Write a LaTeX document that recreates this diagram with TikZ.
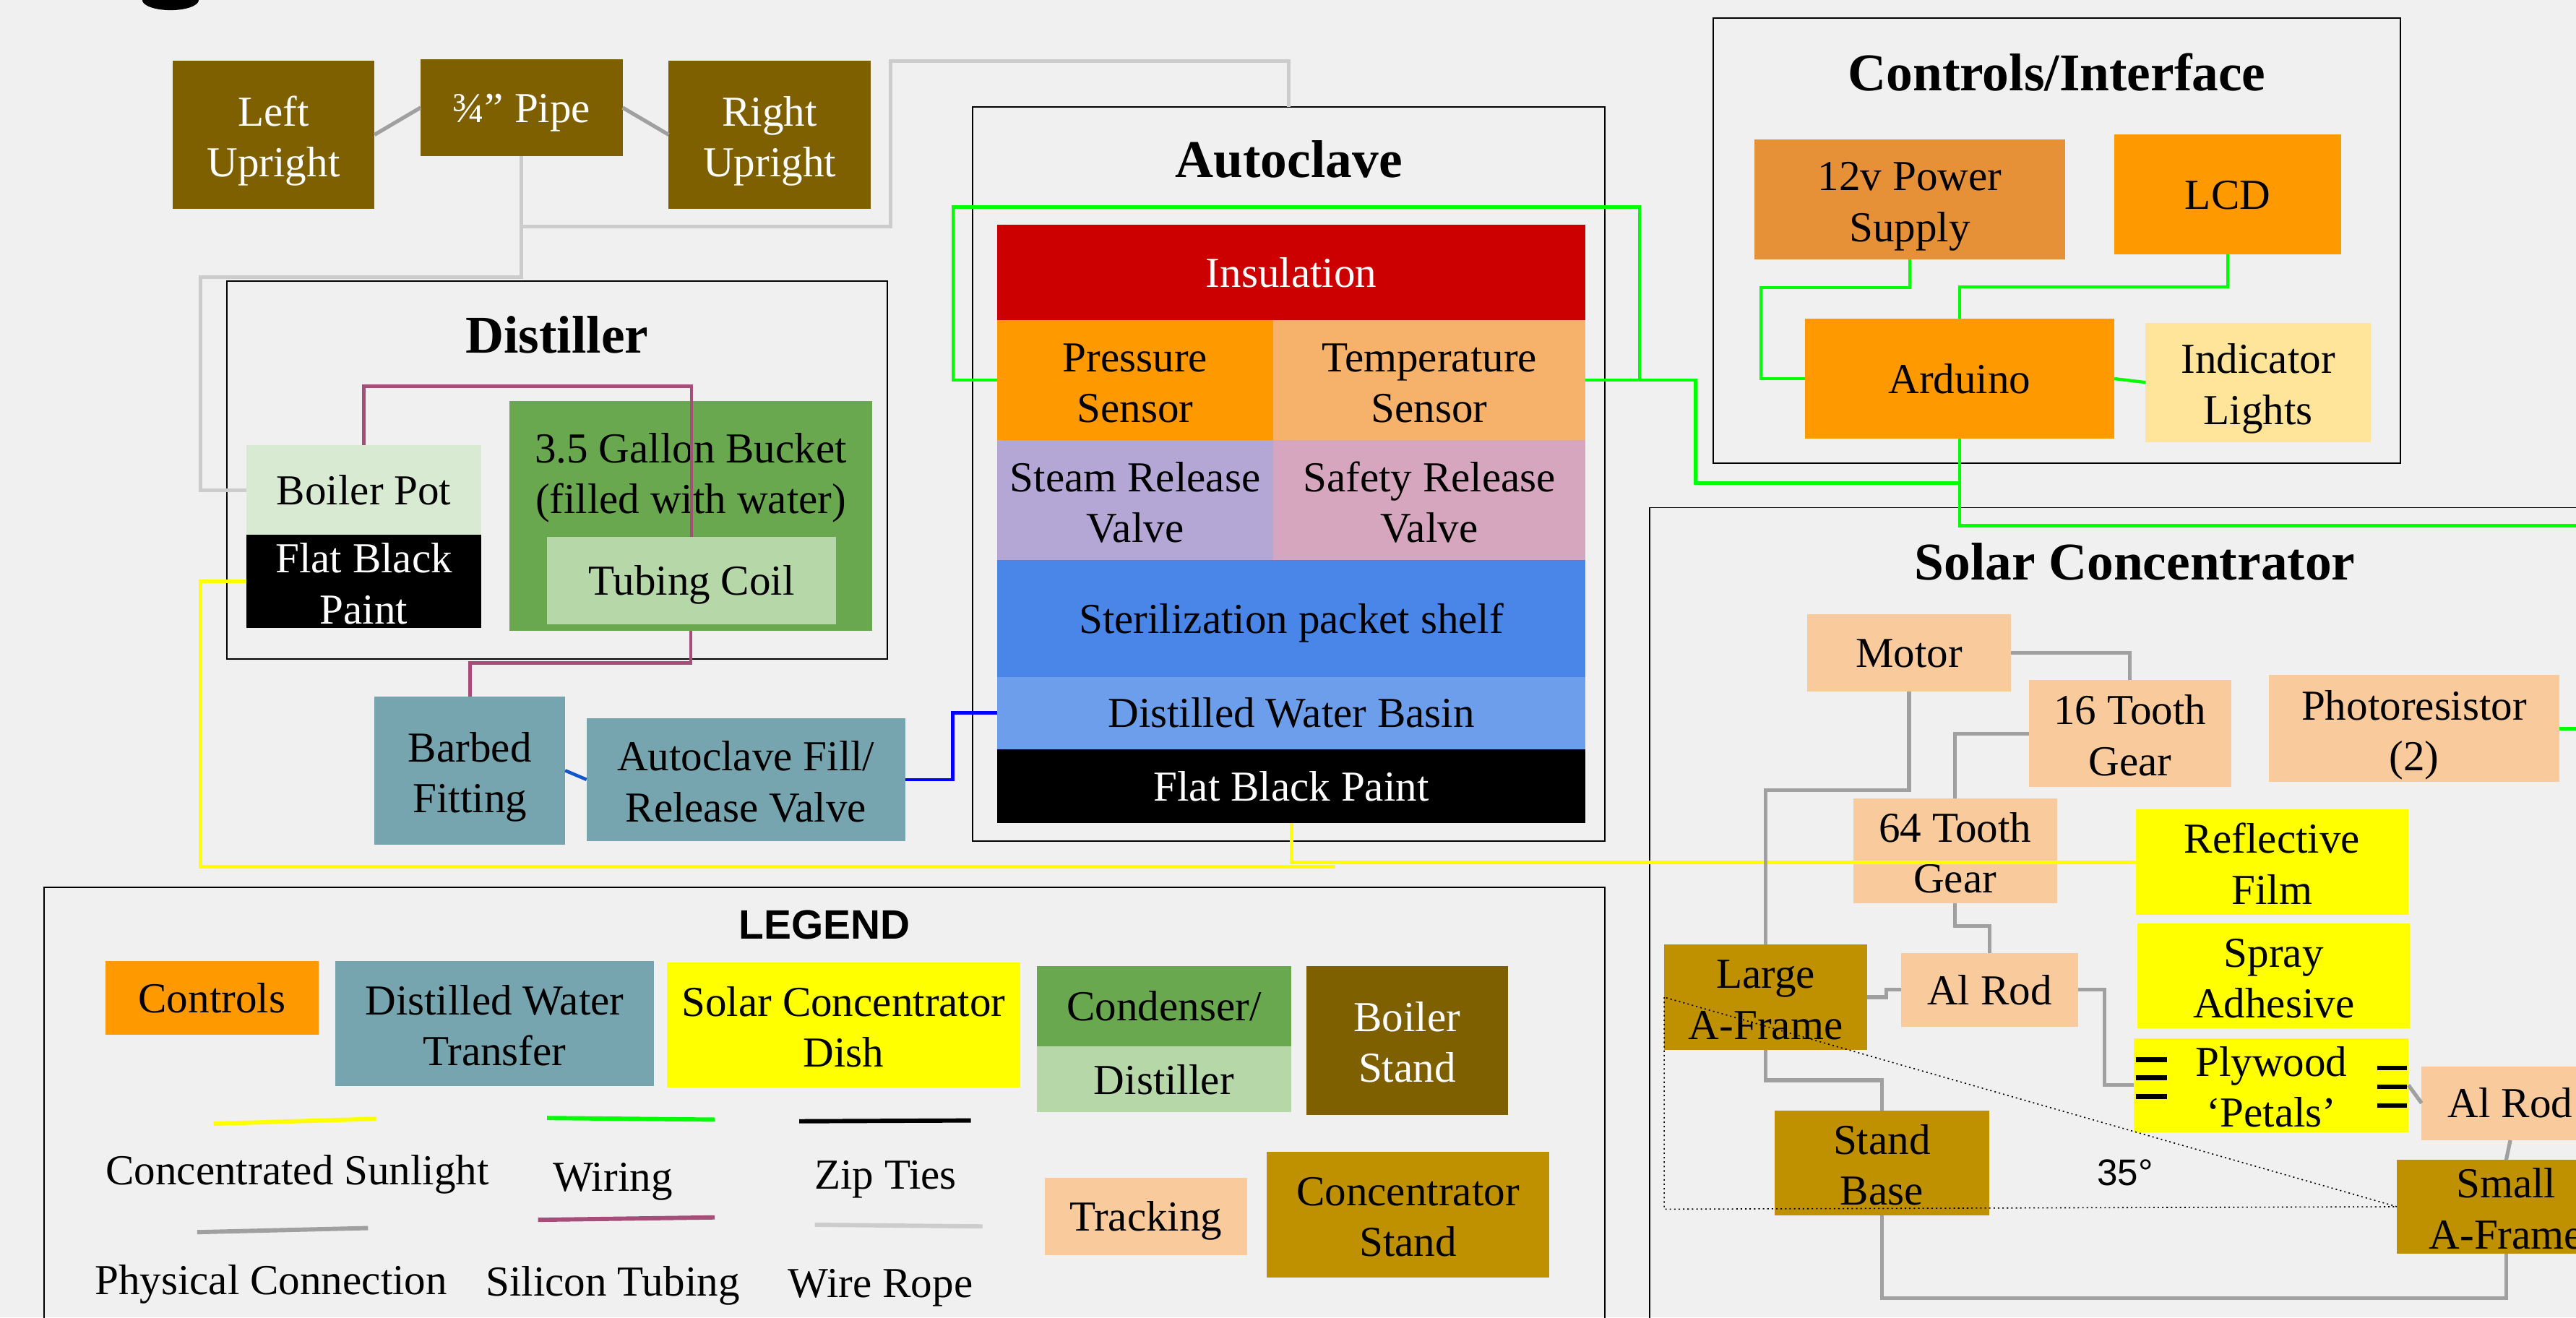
\documentclass[tikz,border=0pt]{standalone}
\usepackage{fontspec}
\setmainfont{Liberation Serif}
\newfontfamily\legendsans{Liberation Sans}
\usepackage{tikz}
\usetikzlibrary{positioning, calc}
\usepackage{xcolor}
\definecolor{canvas}{HTML}{F0F0F0}
\definecolor{standbrown}{HTML}{7F6000}
\definecolor{standgold}{HTML}{BF9000}
\definecolor{trackpeach}{HTML}{F9CB9C}
\definecolor{dishyellow}{HTML}{FFFF00}
\definecolor{ctrlorange}{HTML}{FF9900}
\definecolor{psuorange}{HTML}{E69138}
\definecolor{lampamber}{HTML}{FFE599}
\definecolor{insulred}{HTML}{CC0000}
\definecolor{tempsand}{HTML}{F6B26B}
\definecolor{steamlilac}{HTML}{B4A7D6}
\definecolor{safetypink}{HTML}{D5A6BD}
\definecolor{shelfblue}{HTML}{4A86E8}
\definecolor{basinblue}{HTML}{6D9EEB}
\definecolor{waterteal}{HTML}{76A5AF}
\definecolor{condgreen}{HTML}{6AA84F}
\definecolor{coilgreen}{HTML}{B6D7A8}
\definecolor{potgreen}{HTML}{D9EAD3}
\definecolor{wiregreen}{HTML}{00FF00}
\definecolor{ropegray}{HTML}{CCCCCC}
\definecolor{physgray}{HTML}{A0A0A0}
\definecolor{tubemauve}{HTML}{A64D79}
\definecolor{fittingblue}{HTML}{1155CC}
\definecolor{valveblue}{HTML}{0000FF}
\newcommand{\txtbody}{\fontsize{26}{31}\selectfont}
\newcommand{\txttitle}{\fontsize{32.3}{38}\selectfont\bfseries}

\begin{document}
\begin{tikzpicture}[x=1pt, y=-1pt,
    block/.style={inner sep=0pt, outer sep=0pt, align=center, font=\txtbody,
        text height=17.8pt, text depth=0pt},
    twoline/.style={text height=54pt, text depth=2.8pt},
    wh/.style 2 args={minimum width=#1pt, minimum height=#2pt},
    group/.style={draw, line width=0.8pt, inner sep=0pt, outer sep=0pt},
    heading/.style={inner sep=0pt, font=\txttitle},
    phys/.style={physgray, line width=2.3pt},
    rope/.style={ropegray, line width=2.2pt},
    wire/.style={wiregreen, line width=1.9pt},
    sun/.style={dishyellow, line width=2.2pt},
    tube/.style={tubemauve, line width=2pt},
    legline/.style={line width=2.6pt},
    ziptie/.style={black, line width=2.8pt},
    angleline/.style={line width=0.7pt, dash pattern=on 0.9pt off 1.8pt}
]

\fill[canvas] (0,0) rectangle (1568,802);
\useasboundingbox (0,0) rectangle (1568,802);
\clip (0,0) rectangle (1568,802);

% cut-off title
\fill (86.6,0) arc[start angle=180, end angle=360, x radius=17.2pt, y radius=6.2pt] -- cycle;

% Boiler stand
\node[block, twoline, fill=standbrown, text=white, wh={123}{90}] (lup) at (166.5,82) {Left\\Upright};
\node[block, fill=standbrown, text=white, wh={123}{59}] (pipe) at (317.5,65.5) {¾” Pipe};
\node[block, twoline, fill=standbrown, text=white, wh={123}{90}] (rup) at (468.5,82) {Right\\Upright};

% Distiller
\node[group, wh={402}{230}] (dist) at (339,286) {};
\node[heading] (disttitle) at ($(dist.north)+(0,33)$) {Distiller};
\node[block, fill=potgreen, wh={143}{55}] (boiler) at (221.5,298.5) {Boiler Pot};
\node[block, twoline, fill=black, text=white, wh={143}{56}] (potpaint) at (221.5,354) {Flat Black\\Paint};
\node[block, fill=condgreen, wh={221}{140}] (bucket) at (420.5,314) {};
\node[block, twoline] (buckettext) at (420.5,287) {3.5 Gallon Bucket\\(filled with water)};
\node[block, fill=coilgreen, wh={176}{53}] (coil) at (421,353.5) {Tubing Coil};

% Distilled water transfer
\node[block, twoline, fill=waterteal, wh={116}{90}] (barbed) at (286,469) {Barbed\\Fitting};
\node[block, twoline, fill=waterteal, wh={194}{75}] (fillvalve) at (454,474.5) {Autoclave Fill/\\Release Valve};

% Autoclave
\node[group, wh={385}{447}] (auto) at (784.5,288.5) {};
\node[heading] (autotitle) at ($(auto.north)+(0,32)$) {Autoclave};
\node[block, fill=insulred, text=white, wh={358}{58}] (insul) at (786,166) {Insulation};
\node[block, twoline, fill=ctrlorange, wh={168}{73}, anchor=north west] (press) at (insul.south west) {Pressure\\Sensor};
\node[block, twoline, fill=tempsand, wh={190}{73}, right=0pt of press] (temp) {Temperature\\Sensor};
\node[block, twoline, fill=steamlilac, wh={168}{73}, below=0pt of press] (steam) {Steam Release\\Valve};
\node[block, twoline, fill=safetypink, wh={190}{73}, below=0pt of temp] (safety) {Safety Release\\Valve};
\node[block, fill=shelfblue, wh={358}{71}, anchor=north] (shelf) at (steam.south -| insul.south) {Sterilization packet shelf};
\node[block, fill=basinblue, wh={358}{44}, below=0pt of shelf] (basin) {Distilled Water Basin};
\node[block, fill=black, text=white, wh={358}{45}, below=0pt of basin] (autopaint) {Flat Black Paint};

% Controls/Interface
\node[group, wh={418}{271}] (ctrl) at (1252,146.5) {};
\node[heading] (ctrltitle) at ($(ctrl.north)+(0,33)$) {Controls/Interface};
\node[block, twoline, fill=psuorange, wh={189}{73}] (psu) at (1162.5,121.5) {12v Power\\Supply};
\node[block, fill=ctrlorange, wh={138}{73}] (lcd) at (1356,118.5) {LCD};
\node[block, fill=ctrlorange, wh={188.5}{73}] (ard) at (1192.75,230.5) {Arduino};
\node[block, twoline, fill=lampamber, wh={137}{72.5}] (lights) at (1374.5,232.75) {Indicator\\Lights};

% Solar Concentrator
\node[group, wh={591}{530}] (solar) at (1299.5,574) {};
\node[heading] (solartitle) at ($(solar.north)+(0,33)$) {Solar Concentrator};
\node[block, fill=trackpeach, wh={124}{47}] (motor) at (1162,397.5) {Motor};
\node[block, twoline, fill=trackpeach, wh={123}{65}] (gear16) at (1296.5,446.5) {16 Tooth\\Gear};
\node[block, twoline, fill=trackpeach, wh={177}{65}] (photo) at (1469.5,443.5) {Photoresistor\\(2)};
\node[block, twoline, fill=trackpeach, wh={124}{64}] (gear64) at (1190,518) {64 Tooth\\Gear};
\node[block, twoline, fill=dishyellow, wh={166}{64.5}] (film) at (1383,524.75) {Reflective\\Film};
\node[block, twoline, fill=dishyellow, wh={166}{64}] (spray) at (1384,594) {Spray\\Adhesive};
\node[block, twoline, fill=dishyellow, wh={167}{57}] (petals) at (1382.5,660.5) {Plywood\\‘Petals’};
\node[block, twoline, fill=standgold, wh={123.5}{64}] (largeframe) at (1074.75,607) {Large\\A-Frame};
\node[block, fill=trackpeach, wh={108}{45}] (rodA) at (1211,602.5) {Al Rod};
\node[block, fill=trackpeach, wh={108}{45}] (rodB) at (1528,671.5) {Al Rod};
\node[block, twoline, fill=standgold, wh={131}{64}] (standbase) at (1145.5,708) {Stand\\Base};
\node[block, twoline, fill=standgold, wh={133}{57}] (smallframe) at (1525.5,734.5) {Small\\A-Frame};

% Legend
\node[group, wh={950}{290}] (legend) at (502,685) {};
\node[inner sep=0pt, font=\legendsans\fontsize{25}{30}\selectfont\bfseries] (legendtitle) at (502,563) {LEGEND};
\node[block, fill=ctrlorange, wh={130}{45}] (keyctrl) at (129,607.5) {Controls};
\node[block, twoline, fill=waterteal, wh={194}{76}] (keywater) at (301,623) {Distilled Water\\Transfer};
\node[block, twoline, fill=dishyellow, wh={215}{76}] (keydish) at (513.5,624) {Solar Concentrator\\Dish};
\node[block, fill=condgreen, wh={155}{49}] (keycond) at (708.5,612.5) {Condenser/};
\node[block, fill=coilgreen, wh={155}{40}, below=0pt of keycond] (keydist) {Distiller};
\node[block, twoline, fill=standbrown, text=white, wh={123}{90.5}] (keyboil) at (856.5,633.25) {Boiler\\Stand};
\node[block, fill=trackpeach, wh={123}{47}] (keytrack) at (697.5,740.5) {Tracking};
\node[block, twoline, fill=standgold, wh={172}{76.5}] (keystand) at (857,739.25) {Concentrator\\Stand};

\node[block] (keysun) at (181,712) {Concentrated Sunlight};
\node[block] (keywire) at (373,716) {Wiring};
\node[block] (keyzip) at (539,715) {Zip Ties};
\node[block] (keyphys) at (165,779) {Physical Connection};
\node[block] (keytube) at (373,780) {Silicon Tubing};
\node[block] (keyrope) at (536,781) {Wire Rope};
\foreach \col/\xa/\ya/\xb/\yb in {dishyellow/130/684/229/681, wiregreen/333/680.5/435/681.5,
    black/486.5/682.5/591/682, physgray/120/750/224/747.5,
    tubemauve/327.5/742.5/435/741, ropegray/496/745.5/598/746.5}
    \draw[legline, \col] (\xa,\ya) -- (\xb,\yb);

% Stand connections
\draw[phys] (lup.east) -- (pipe.west);
\draw[phys] (pipe.east) -- (rup.west);
\draw[rope] (pipe.south) -- ++(0,43) -| (542,37) -| (auto.north);
\draw[rope] (pipe.south) |- (122,168.5) |- (boiler.west);

% Tubing and water
\draw[tube] (boiler.north) -- ++(0,-36) -| (coil.north);
\draw[tube] (bucket.south) -- ++(0,19.5) -| (barbed.north);
\draw[fittingblue, line width=2pt] (barbed.east) -- (fillvalve.west);
\draw[valveblue, line width=2pt] (fillvalve.east) -- ++(29,0) |- (basin.west);

% Wiring
\draw[wire] (press.west) -- ++(-27,0) |- (998,126) -- ++(0,105.5);
\draw[wire] (temp.east) -| (1032,294) -| (ard.south);
\draw[wire] (ard.south) |- (1600,320);
\draw[wire] (psu.south) |- (1072,175) |- (ard.west);
\draw[wire] (lcd.south) -- ++(0,19.5) -| (ard.north);
\draw[wire] (ard.east) -- (lights.west);
\draw[wire] (photo.east) -- ++(30,0);

% Sunlight
\draw[sun] (potpaint.west) -- ++(-28,0) |- (813,527.5);
\draw[sun] (autopaint.south) |- (film.west);

% Tracking connections
\draw[phys] (motor.east) -| (gear16.north);
\draw[phys] (gear16.west) -| (gear64.north);
\draw[phys] (motor.south) -- ++(0,60) -| (largeframe.north);
\draw[phys] (gear64.south) -- ++(0,13.5) -| (rodA.north);
\draw[phys] (largeframe.east) -- ++(11.5,0) |- (rodA.west);
\draw[phys] (rodA.east) -- ++(16,0) |- (petals.west);
\draw[phys] (largeframe.south) -- ++(0,18.5) -| (standbase.north);
\draw[phys] (standbase.south) -- ++(0,50) -| (smallframe.south);
\draw[phys] (petals.east) -- (rodB.west);
\draw[phys] (rodB.south) -- (smallframe.north);

% Zip ties
\foreach \d in {-15.5,-4.5,7}
    \draw[ziptie] ($(petals.west)+(1,\d)$) -- ++(19,0);
\foreach \d in {-10.5,1,12.5}
    \draw[ziptie] ($(petals.east)+(-1,\d)$) -- ++(-18,0);

% Tilt angle
\draw[angleline] (largeframe.west) -- ++(0,129) -- (smallframe.west) -- cycle;
\node[inner sep=0pt, font=\legendsans\fontsize{22.5}{27}\selectfont] (tilt) at (1293.5,714) {35°};

\end{tikzpicture}
\end{document}
